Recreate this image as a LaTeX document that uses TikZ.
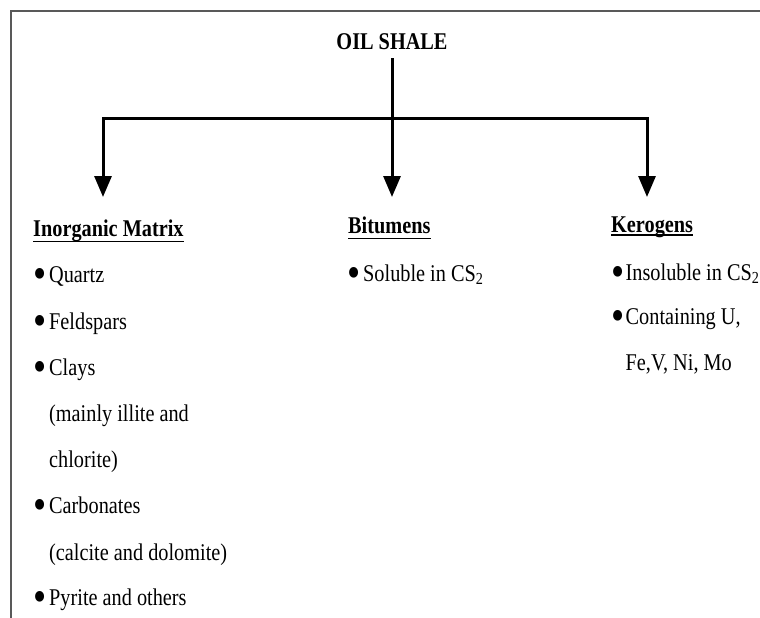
\documentclass[tikz,border=0pt]{standalone}
\usepackage{fontspec}
\setmainfont{Liberation Serif}[FakeStretch=0.845]
\usepackage{graphicx}
\usepackage{tikz}
\usetikzlibrary{arrows.meta,positioning}

\newcommand{\bul}[1][16pt]{\makebox[#1][l]{\raisebox{-6.4pt}{\scalebox{1.85}{\textbullet}}}}

\begin{document}
\begin{tikzpicture}[x=1pt, y=-1pt, >={Triangle[length=21pt,width=17pt]},
  every node/.style={font=\fontsize{24}{28}\selectfont, inner sep=0pt, anchor=base west},
  head/.style={font=\fontsize{24}{28}\selectfont\bfseries},
  link/.style={line width=3pt},
  uline/.style={line width=1.6pt},
  frame/.style={draw=black!65, line width=2pt}]
\useasboundingbox (0,0) rectangle (760,618);
\draw[frame] (11,618) -- (11,11) -- (760,11);
% Title and headings
\node[head, anchor=base, inner ysep=8pt] (title) at (392,50) {OIL SHALE};
\node[head] (inorg) at (33,236) {Inorganic Matrix};
\node[head] (bitum) at (348,233) {Bitumens};
\node[head] (kerog) at (611,232) {Kerogens};
% Underlines
\draw[uline] ([yshift=-5.5pt]inorg.base west) -- ([yshift=-5.5pt]inorg.base east);
\draw[uline] ([yshift=-5.5pt]bitum.base west) -- ([yshift=-5.5pt]bitum.base east);
\draw[uline] ([yshift=-3pt]kerog.base west) -- ([yshift=-3pt]kerog.base east);
% Inorganic matrix items
\node (quartz) at (33,282) {\bul Quartz};
\node (feld) at (33,329) {\bul Feldspars};
\node (clays) at (33,375) {\bul Clays};
\node (clays2) at (49,421) {(mainly illite and};
\node (clays3) at (49,467) {chlorite)};
\node (carb) at (33,513) {\bul Carbonates};
\node (carb2) at (49,560) {(calcite and dolomite)};
\node (pyrite) at (33,605) {\bul Pyrite and others};
% Bitumen and kerogen items
\node (sol) at (347,281) {\bul Soluble in CS\textsubscript{2}};
\node (insol) at (611,280) {\bul[14.5pt]Insoluble in CS\textsubscript{2}};
\node (cont) at (611,324) {\bul[14.5pt]Containing U,};
\node (cont2) at (625.5,370) {Fe,V, Ni, Mo};
% Arrows
\coordinate (split) at (392,118);
\coordinate (lend) at (103,197);
\coordinate (mend) at (392,197);
\coordinate (rend) at (647,197);
\draw[link, <->] (lend) |- (split) -| (rend);
\draw[link, ->] (title) -- (mend);
\end{tikzpicture}
\end{document}
